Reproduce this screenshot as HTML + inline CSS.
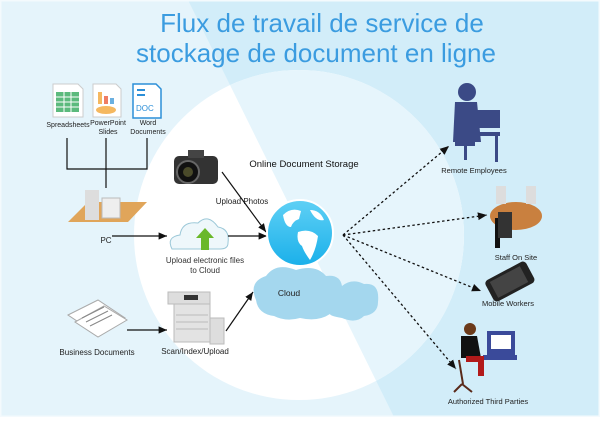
<!DOCTYPE html>
<html><head><meta charset="utf-8"><style>
body{margin:0;width:600px;height:417px;overflow:hidden;font-family:"Liberation Sans",sans-serif}
svg text{font-family:"Liberation Sans",sans-serif}
</style></head><body>
<svg width="600" height="417" viewBox="0 0 600 417" xmlns="http://www.w3.org/2000/svg">
<defs>
<marker id="a" markerWidth="8" markerHeight="8" refX="7" refY="4" orient="auto"><path d="M0,1 L7,4 L0,7 z" fill="#111"/></marker>
<linearGradient id="g" x1="0" y1="0" x2="0" y2="1"><stop offset="0" stop-color="#5fd0f5"/><stop offset="1" stop-color="#1ab0ea"/></linearGradient>
<clipPath id="c"><circle cx="299" cy="235" r="165"/></clipPath>
</defs>
<rect width="600" height="417" fill="#e5f4fb"/>
<polygon points="188,0 600,0 600,417 394,417" fill="#d2edf9"/>
<rect width="600" height="417" fill="none" stroke="#f4fafd" stroke-width="3"/>
<circle cx="299" cy="235" r="165" fill="#fff"/>
<polygon points="188,0 600,0 600,417 394,417" fill="#e6f5fc" clip-path="url(#c)"/>
<text x="322" y="32" font-size="26" fill="#3b9ce0" text-anchor="middle">Flux de travail de service de</text>
<text x="316" y="62" font-size="26" fill="#3b9ce0" text-anchor="middle">stockage de document en ligne</text>

<!-- doc icons -->
<g><path d="M53,84 h25 l5,5 v28 h-30z" fill="#fff" stroke="#ccc"/><rect x="56" y="92" width="23" height="20" fill="#5cba7d"/>
<path d="M56,97h23M56,102h23M56,107h23M64,92v20M71,92v20" stroke="#fff"/></g>
<g><path d="M93,84 h23 l5,5 v28 h-28z" fill="#fff" stroke="#ccc"/><rect x="98" y="92" width="4" height="12" fill="#f5b860"/><rect x="104" y="96" width="4" height="8" fill="#ef7d64"/><rect x="110" y="98" width="4" height="6" fill="#6bb0e0"/><ellipse cx="106" cy="110" rx="10" ry="4" fill="#f5b860"/></g>
<g><path d="M133,84 h23 l5,5 v29 h-28z" fill="#fff" stroke="#2c8fd8" stroke-width="1.5"/><text x="136" y="111" font-size="8" fill="#2c8fd8">DOC</text><path d="M137,90h8M137,95h8" stroke="#2c8fd8" stroke-width="2"/></g>
<text x="68" y="127" font-size="7" fill="#222" text-anchor="middle">Spreadsheets</text>
<text x="108" y="125" font-size="7" fill="#222" text-anchor="middle">PowerPoint</text>
<text x="108" y="134" font-size="7" fill="#222" text-anchor="middle">Slides</text>
<text x="148" y="125" font-size="7" fill="#222" text-anchor="middle">Word</text>
<text x="148" y="134" font-size="7" fill="#222" text-anchor="middle">Documents</text>
<path d="M67,138 V169 H147 V138 M106,138 V188" stroke="#111" fill="none" stroke-width="1.2"/>

<!-- PC -->
<polygon points="68,222 128,222 147,202 88,202" fill="#e0a55a"/>
<rect x="85" y="190" width="14" height="30" fill="#ddd"/><rect x="102" y="198" width="18" height="20" fill="#eee" stroke="#bbb"/>
<text x="106" y="243" font-size="8" fill="#222" text-anchor="middle">PC</text>
<line x1="112" y1="236" x2="167" y2="236" stroke="#111" stroke-width="1.2" marker-end="url(#a)"/>

<!-- camera -->
<rect x="174" y="156" width="44" height="28" rx="5" fill="#333"/><rect x="188" y="150" width="16" height="8" fill="#444"/>
<circle cx="188" cy="172" r="11" fill="#111" stroke="#666" stroke-width="2"/><circle cx="188" cy="172" r="5" fill="#4a4a2a"/>
<text x="242" y="204" font-size="8" fill="#222" text-anchor="middle">Upload Photos</text>
<line x1="222" y1="172" x2="266" y2="232" stroke="#111" stroke-width="1.2" marker-end="url(#a)"/>
<text x="304" y="167" font-size="9.5" fill="#111" text-anchor="middle">Online Document Storage</text>

<!-- upload cloud -->
<path d="M172,249 q-6,-12 8,-14 q2,-14 18,-12 q10,-10 20,4 q12,2 10,16 q0,6 -8,6 h-40 q-8,0 -8,0z" fill="#eef7fb" stroke="#9cc8d8"/>
<polygon points="205,228 214,238 209,238 209,250 201,250 201,238 196,238" fill="#6ab82a"/>
<text x="205" y="263" font-size="8" fill="#333" text-anchor="middle">Upload electronic files</text>
<text x="205" y="273" font-size="8" fill="#333" text-anchor="middle">to Cloud</text>
<line x1="228" y1="236" x2="267" y2="236" stroke="#111" stroke-width="1.2" marker-end="url(#a)"/>

<!-- clouds under globe -->
<path d="M256,300 q-8,-18 10,-24 q10,-14 30,-6 q20,-6 30,6 q14,-2 16,10 q10,-8 22,-2 q16,-2 14,18 q0,12 -14,14 q-8,8 -22,2 q-12,-2 -12,-4 q-12,8 -30,4 q-14,4 -26,-2 q-16,-2 -18,-16z" fill="#a4d7ee"/>
<circle cx="300" cy="233" r="33" fill="url(#g)" stroke="#fff" stroke-width="2"/>
<path d="M283,215 q8,-8 18,-4 l-2,8 q-6,2 -8,8 q-6,0 -8,-12z M298,232 q12,-4 20,4 q-2,14 -8,24 q-6,-8 -8,-14 q-6,-4 -4,-14z M310,210 q10,0 14,10 q-8,2 -14,-10z" fill="#fff"/>
<text x="289" y="296" font-size="8.5" fill="#222" text-anchor="middle">Cloud</text>

<!-- business docs -->
<g fill="#fff" stroke="#aaa"><polygon points="68,315 98,300 125,318 95,333"/><polygon points="75,322 104,306 127,320 98,337"/></g>
<path d="M82,318 l22,-11 M86,322 l22,-11 M90,326 l22,-11" stroke="#888"/>
<text x="97" y="355" font-size="8" fill="#222" text-anchor="middle">Business Documents</text>
<line x1="127" y1="330" x2="167" y2="330" stroke="#111" stroke-width="1.2" marker-end="url(#a)"/>
<!-- copier -->
<rect x="174" y="302" width="36" height="40" fill="#e3e3e3" stroke="#bbb"/><rect x="168" y="292" width="42" height="12" fill="#ddd" stroke="#bbb"/><rect x="184" y="295" width="14" height="5" fill="#333"/><rect x="210" y="318" width="14" height="26" fill="#ddd" stroke="#bbb"/>
<path d="M176,315h32M176,322h32M176,329h32" stroke="#bbb"/>
<text x="195" y="354" font-size="8" fill="#222" text-anchor="middle">Scan/Index/Upload</text>
<line x1="226" y1="331" x2="253" y2="292" stroke="#111" stroke-width="1.2" marker-end="url(#a)"/>

<!-- dotted arrows -->
<g stroke="#111" stroke-width="1.3" stroke-dasharray="2.5,2.5" fill="none">
<line x1="343" y1="235" x2="449" y2="146" marker-end="url(#a)"/>
<line x1="343" y1="235" x2="487" y2="215" marker-end="url(#a)"/>
<line x1="343" y1="235" x2="481" y2="291" marker-end="url(#a)"/>
<line x1="343" y1="235" x2="456" y2="369" marker-end="url(#a)"/>
</g>

<!-- remote employee -->
<g fill="#3b4a86"><circle cx="467" cy="92" r="9"/><path d="M455,102 h22 l4,40 h-28z"/><rect x="476" y="110" width="24" height="18"/><rect x="478" y="132" width="22" height="4"/><rect x="495" y="136" width="3" height="26"/><rect x="455" y="140" width="20" height="6"/><rect x="464" y="146" width="3" height="14"/></g>
<text x="474" y="173" font-size="7.5" fill="#222" text-anchor="middle">Remote Employees</text>
<!-- staff -->
<ellipse cx="516" cy="216" rx="26" ry="14" fill="#c9803f"/><rect x="495" y="218" width="5" height="30" fill="#111"/><rect x="498" y="212" width="14" height="26" fill="#333"/>
<rect x="496" y="186" width="10" height="18" fill="#ddd"/><rect x="526" y="186" width="10" height="18" fill="#ddd"/>
<text x="516" y="260" font-size="7.5" fill="#222" text-anchor="middle">Staff On Site</text>
<!-- phone -->
<g transform="rotate(-28 509 282)"><rect x="487" y="270" width="46" height="24" rx="4" fill="#222"/><rect x="492" y="273" width="34" height="18" fill="#444"/></g>
<text x="508" y="306" font-size="7.5" fill="#222" text-anchor="middle">Mobile Workers</text>
<!-- third party -->
<rect x="487" y="331" width="28" height="24" fill="#3a4a9a"/><rect x="491" y="335" width="20" height="14" fill="#fff"/><rect x="483" y="355" width="34" height="5" fill="#3a4a9a"/>
<circle cx="470" cy="329" r="6" fill="#6b3a1a"/><path d="M461,336 h16 l4,22 h-20z" fill="#111"/><path d="M466,356 h18 v20 h-6 v-14 h-12z" fill="#b21a1a"/><path d="M459,360 l4,24 M462,384 l-8,8 M462,384 l10,8" stroke="#5a2a1a" stroke-width="2"/>
<text x="488" y="404" font-size="7.5" fill="#222" text-anchor="middle">Authorized Third Parties</text>
</svg>
</body></html>
